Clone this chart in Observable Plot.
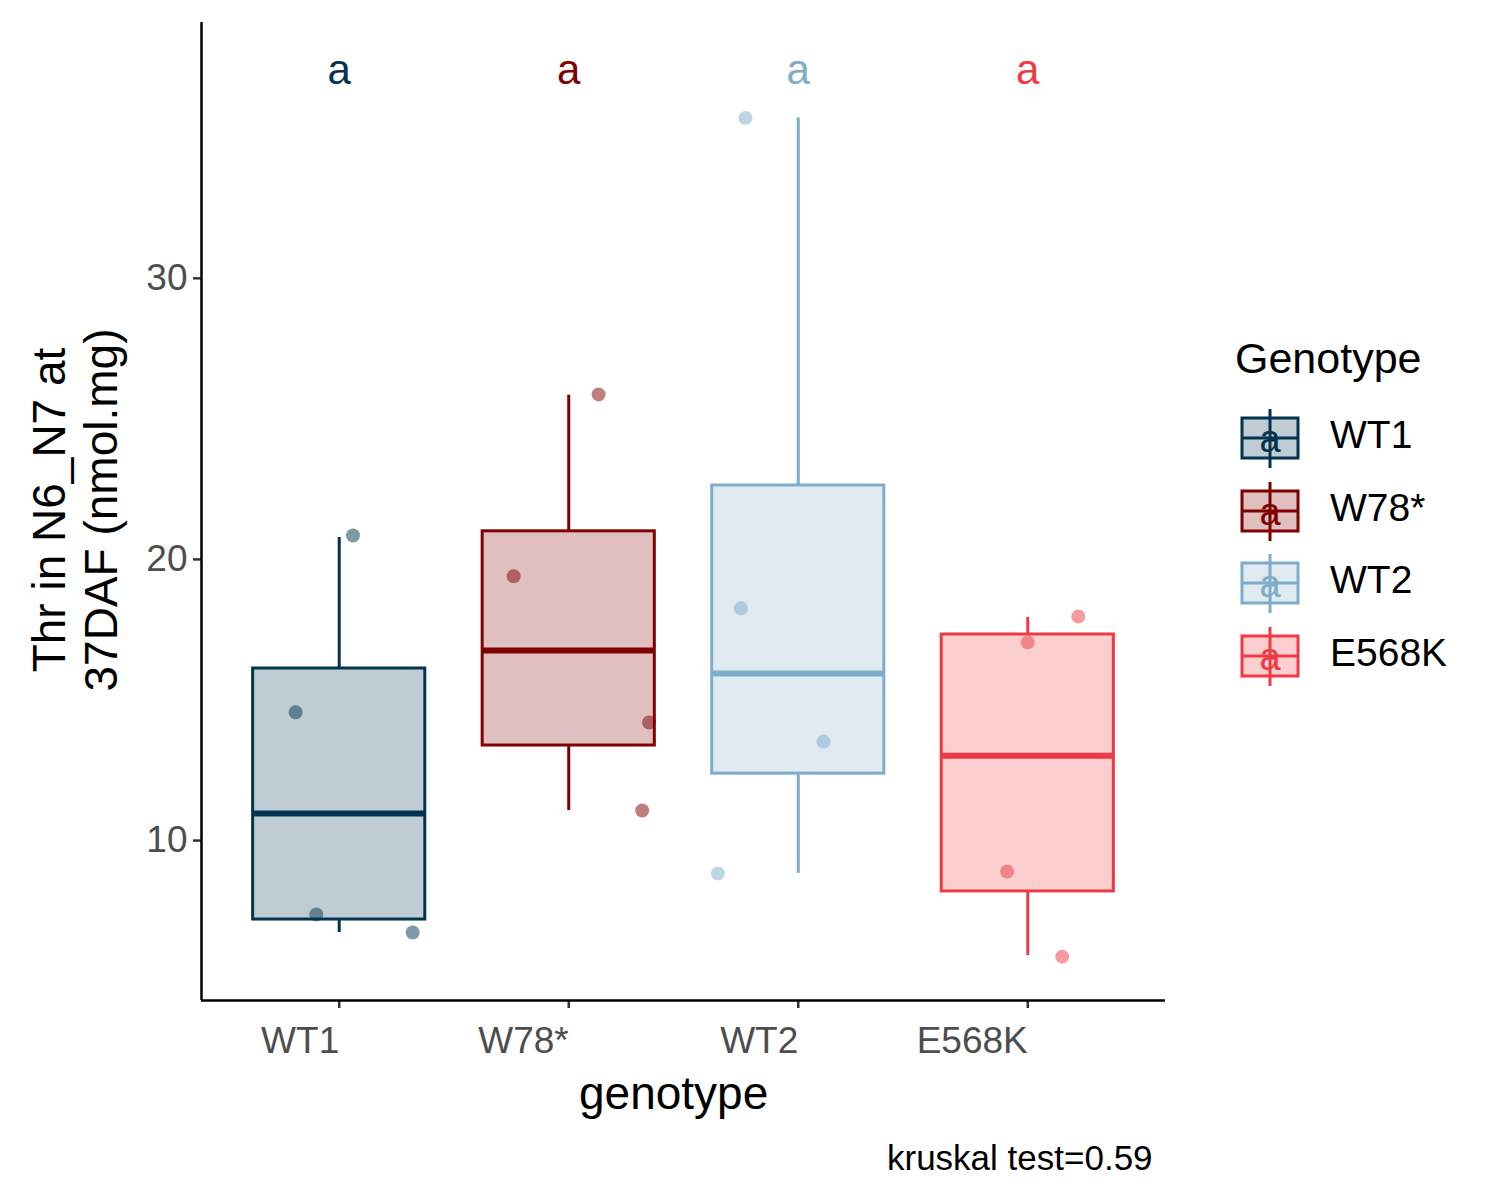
<!DOCTYPE html>
<html><head><meta charset="utf-8">
<script src="https://cdn.jsdelivr.net/npm/d3@7"></script>
<script src="https://cdn.jsdelivr.net/npm/@observablehq/plot@0.6"></script>
<style>
body{margin:0;background:#fff;font-family:"Liberation Sans",Arial,sans-serif}
#wrap{position:relative;width:1500px;height:1200px}
.abs{position:absolute;white-space:nowrap}
</style></head><body><div id="wrap"></div>
<script>
const genotypes = ["WT1","W78*","WT2","E568K"];
const colors = ["#023450","#7f0000","#7eadc9","#ee3a43"];
const whiskerLow = [6.73,11.07,8.83,5.91];
const q1 = [7.19,13.38,12.38,8.19];
const median = [10.96,16.76,15.94,13.02];
const q3 = [16.12,21.0,22.63,17.33];
const whiskerHigh = [20.78,25.84,35.7,17.94];
const pointGenotype = ["WT1","WT1","WT1","WT1","W78*","W78*","W78*","W78*","WT2","WT2","WT2","WT2","E568K","E568K","E568K","E568K"];
const pointJitter = [0.06,-0.19,-0.10,0.32,0.13,-0.24,0.35,0.32,-0.23,-0.25,0.11,-0.35,0.22,0.0,-0.09,0.15];
const pointValue = [20.85,14.56,7.37,6.73,25.87,19.4,14.2,11.07,35.7,18.26,13.52,8.83,17.97,17.05,8.9,5.87];
const letters = ["a","a","a","a"];
const letterY = 37.4;

const boxes = genotypes.map((g,i)=>({g,i:i+1,lo:whiskerLow[i],q1:q1[i],med:median[i],q3:q3[i],hi:whiskerHigh[i],c:colors[i],letter:letters[i]}));
const pts = pointValue.map((v,k)=>{const i=genotypes.indexOf(pointGenotype[k]);return {x:i+1+pointJitter[k],v,c:colors[i]};});

const plot = Plot.plot({
  width:1500,height:1200,marginLeft:201,marginRight:335,marginTop:22,marginBottom:200,
  style:{fontFamily:"Liberation Sans, Arial, sans-serif",background:"transparent"},
  x:{type:"linear",domain:[0.4,4.6],axis:null},
  y:{domain:[4.31,39.1],axis:null},
  marks:[
    Plot.ruleX(boxes,{x:"i",y1:"q3",y2:"hi",stroke:"c",strokeWidth:3}),
    Plot.ruleX(boxes,{x:"i",y1:"lo",y2:"q1",stroke:"c",strokeWidth:3}),
    Plot.rect(boxes,{x1:d=>d.i-0.375,x2:d=>d.i+0.375,y1:"q1",y2:"q3",fill:"c",fillOpacity:0.25,stroke:"c",strokeWidth:3}),
    Plot.ruleY(boxes,{y:"med",x1:d=>d.i-0.375,x2:d=>d.i+0.375,stroke:"c",strokeWidth:6}),
    Plot.dot(pts,{x:"x",y:"v",r:7,fill:"c",fillOpacity:0.5,stroke:null}),
    Plot.text(boxes,{x:"i",y:letterY,text:"letter",fill:"c",fontSize:42}),
    Plot.axisY([10,20,30],{tickSize:8,fontSize:37,fill:"#4d4d4d",stroke:"#333",strokeWidth:2.5,tickPadding:6,label:null}),
    Plot.axisX([1,2,3,4],{tickSize:8,fontSize:37,fill:"#4d4d4d",stroke:"#333",strokeWidth:2.5,label:null,tickFormat:d=>genotypes[d-1],textAnchor:"end",tickPadding:18}),
    Plot.ruleX([0.4],{stroke:"black",strokeWidth:2.5}),
    Plot.ruleY([4.31],{stroke:"black",strokeWidth:2.5})
  ]
});
const wrap=document.getElementById("wrap");
wrap.appendChild(plot);
function add(html,style){const d=document.createElement("div");d.className="abs";d.innerHTML=html;Object.assign(d.style,style);wrap.appendChild(d);return d;}
add("genotype",{left:"579px",top:"1066px",fontSize:"46px"});
add("kruskal test=0.59",{left:"887px",top:"1138px",fontSize:"35px"});
add("Thr in N6_N7 at<br>37DAF (nmol.mg)",{left:"75px",top:"510px",fontSize:"46px",lineHeight:"52px",textAlign:"center",transform:"translate(-50%,-50%) rotate(-90deg)"});
add("Genotype",{left:"1235px",top:"334px",fontSize:"43px"});
genotypes.forEach((g,i)=>{
  const y=410+i*72.5, c=colors[i];
  add(`<svg width="60" height="74"><line x1="30" y1="5" x2="30" y2="64" stroke="${c}" stroke-width="3"/><rect x="2" y="14" width="56" height="40" fill="${c}" fill-opacity="0.25" stroke="${c}" stroke-width="3"/><line x1="2" y1="34" x2="58" y2="34" stroke="${c}" stroke-width="3"/><text x="30" y="48" text-anchor="middle" font-size="38" fill="${c}" font-family="Liberation Sans, Arial">a</text></svg>`,{left:"1240px",top:(y-6)+"px"});
  add(g,{left:"1330px",top:(y+3)+"px",fontSize:"39px"});
});
</script></body></html>
